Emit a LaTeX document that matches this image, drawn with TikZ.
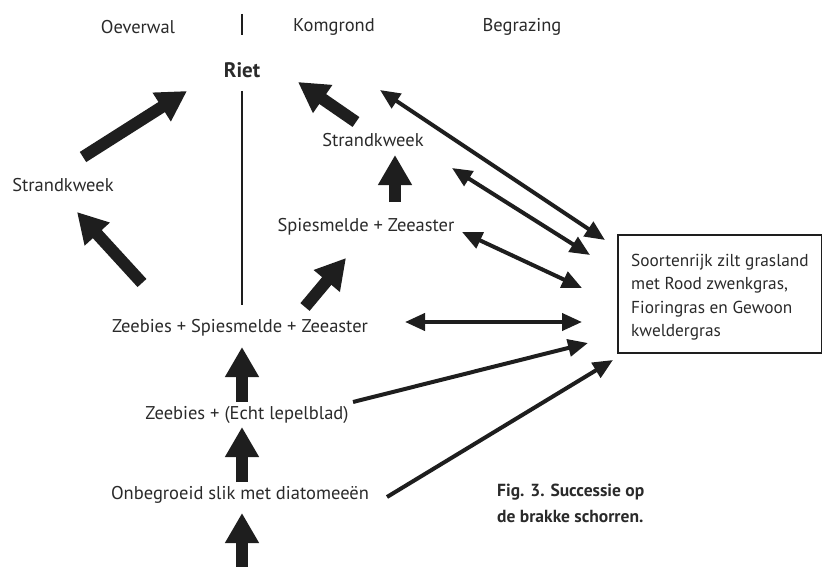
\documentclass[tikz,border=0pt]{standalone}
\usepackage{fontspec}
\setmainfont{PT Sans}
\usetikzlibrary{arrows.meta}
\definecolor{ink}{HTML}{1E1E1E}
\definecolor{txt}{HTML}{2A2A2A}
\tikzset{
  lbl/.style={inner sep=0pt, text=txt, font=\fontsize{18.5}{22}\selectfont},
  bigarrow/.style={draw=ink, line width=12pt, -{Triangle[length=30pt,width=32pt]}},
  dbl/.style={draw=ink, line width=4pt, {Triangle[length=20pt,width=17pt]}-{Triangle[length=20pt,width=17pt]}},
  sgl/.style={draw=ink, line width=4pt, -{Triangle[length=20pt,width=17pt]}},
  thin/.style={draw=ink, line width=1.3pt}
}
\begin{document}
\begin{tikzpicture}[x=1pt,y=-1pt]
\useasboundingbox (0,0) rectangle (822,567);
% headers
\node[lbl] (oever) at (138,27) {Oeverwal};
\node[lbl] (komg) at (334,27) {Komgrond};
\node[lbl] (begr) at (522,27) {Begrazing};
\coordinate (tickT) at (242,14);
\coordinate (tickB) at (242,35);
\draw[thin] (tickT) -- (tickB);
% nodes
\node[lbl, font=\fontsize{21}{24}\selectfont\bfseries] (riet) at (242,70) {Riet};
\node[lbl] (strL) at (63,185) {Strandkweek};
\node[lbl] (strR) at (373,140) {Strandkweek};
\node[lbl] (spz) at (366,227) {Spiesmelde + Zeeaster};
\node[lbl] (zsz) at (240,328) {Zeebies + Spiesmelde + Zeeaster};
\node[lbl] (zel) at (247,415) {Zeebies + (Echt lepelblad)};
\node[lbl] (onb) at (240,495) {Onbegroeid slik met diatomeeën};
\draw[thin] (618,235) rectangle (821.3,353);
\node[lbl, anchor=west, align=left, font=\fontsize{17.3}{23.5}\selectfont] (gras) at (631,297)
  {Soortenrijk zilt grasland\\met Rood zwenkgras,\\Fioringras en Gewoon\\kweldergras};
\node[lbl, anchor=west, align=left, font=\fontsize{17.5}{26}\selectfont\bfseries] (cap) at (497,503)
  {Fig. 3. Successie op\\de brakke schorren.};
% vertical divider
\coordinate (divT) at (242,91);
\coordinate (divB) at (242,305);
\draw[thin] (divT) -- (divB);
% thick arrows
\coordinate (a1s) at (83,157); \coordinate (a1e) at (187,91);
\coordinate (a2s) at (142,283); \coordinate (a2e) at (77,212);
\coordinate (a3s) at (356,122); \coordinate (a3e) at (298,82);
\coordinate (a4s) at (395,202); \coordinate (a4e) at (395,155);
\coordinate (a5s) at (305,307); \coordinate (a5e) at (346,258);
\coordinate (a6s) at (242,402); \coordinate (a6e) at (242,347);
\coordinate (a7s) at (242,482); \coordinate (a7e) at (242,427);
\coordinate (a8s) at (242,567); \coordinate (a8e) at (242,513);
\foreach \i in {1,...,8} {\draw[bigarrow] (a\i s) -- (a\i e);}
% thin arrows to/from grassland
\coordinate (ba1) at (380,90);  \coordinate (bb1) at (605,240);
\coordinate (ba2) at (452,168); \coordinate (bb2) at (590,255);
\coordinate (ba3) at (462,232); \coordinate (bb3) at (582,288);
\coordinate (ba4) at (405,322); \coordinate (bb4) at (582,322);
\foreach \i in {1,...,4} {\draw[dbl] (ba\i) -- (bb\i);}
\coordinate (sa1) at (353,402); \coordinate (sb1) at (588,343);
\coordinate (sa2) at (387,497); \coordinate (sb2) at (613,360);
\draw[sgl] (sa1) -- (sb1);
\draw[sgl] (sa2) -- (sb2);
\end{tikzpicture}
\end{document}
